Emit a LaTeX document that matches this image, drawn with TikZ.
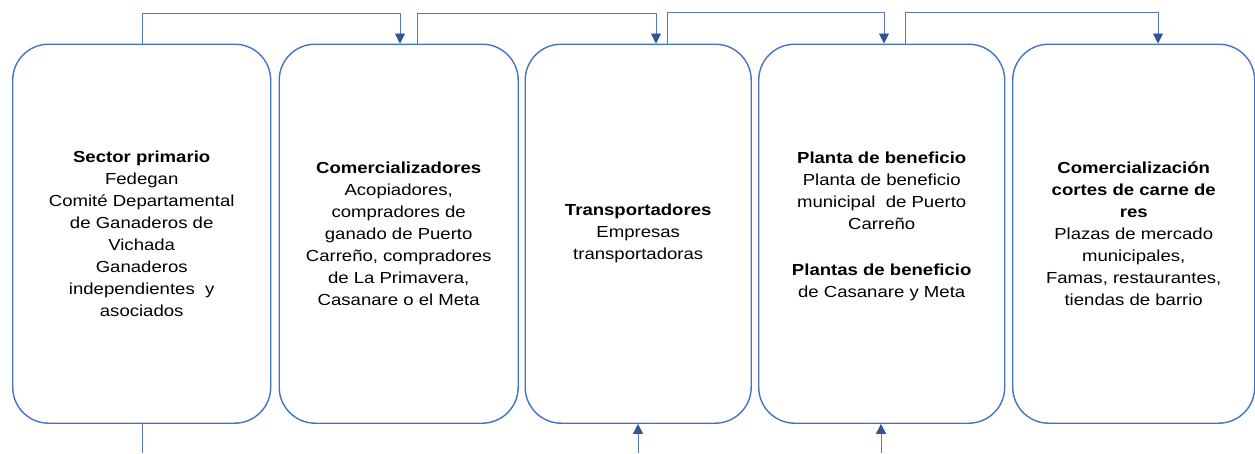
\documentclass[tikz,border=0pt]{standalone}
\usepackage{fontspec}
\setmainfont{Liberation Sans}[FakeStretch=1.16]
\usetikzlibrary{arrows.meta,calc}
\definecolor{boxblue}{HTML}{4472C4}
\definecolor{lineblue}{HTML}{5878BC}
\definecolor{tipblue}{HTML}{2F5597}
\tikzset{
  stage/.style={draw=boxblue, line width=1.4pt, rounded corners=36pt, rectangle,
    minimum height=379pt, inner sep=0pt, align=center, anchor=north west,
    font=\fontsize{16pt}{22pt}\selectfont},
  conn/.style={draw=lineblue, line width=0.9pt},
  tip/.style={-{Triangle[length=10pt,width=10pt,fill=tipblue,color=tipblue]}}
}
\begin{document}
\begin{tikzpicture}[x=1pt,y=-1pt]
\useasboundingbox (0,0) rectangle (1255,453);
\node[stage, minimum width=258pt] (b1) at (12,43.5)
  {\textbf{Sector primario}\\Fedegan\\Comité Departamental\\de Ganaderos de\\Vichada\\Ganaderos\\independientes~ y\\asociados};
\node[stage, minimum width=239pt] (b2) at (278.5,43.5)
  {\textbf{Comercializadores}\\Acopiadores,\\compradores de\\ganado de Puerto\\Carreño, compradores\\de La Primavera,\\Casanare o el Meta};
\node[stage, minimum width=226pt] (b3) at (524.5,43.5)
  {\textbf{Transportadores}\\Empresas\\transportadoras};
\node[stage, minimum width=246pt] (b4) at (758,43.5)
  {\textbf{Planta de beneficio}\\Planta de beneficio\\municipal~ de Puerto\\Carreño\\[24pt]\textbf{Plantas de beneficio}\\de Casanare y Meta\\[-4pt]\mbox{}};
\node[stage, minimum width=242pt] (b5) at (1012,43.5)
  {\textbf{Comercialización}\\\textbf{cortes de carne de}\\\textbf{res}\\Plazas de mercado\\municipales,\\Famas, restaurantes,\\tiendas de barrio};
% top connectors
\coordinate (u1) at (142,13);
\coordinate (v1) at (400,13);
\coordinate (u2) at (417,13);
\coordinate (v2) at (656,13);
\coordinate (u3) at (667,12);
\coordinate (v3) at (884,12);
\coordinate (u4) at (905,12);
\coordinate (v4) at (1158,12);
\draw[conn,tip] (u1 |- b1.north) -- (u1) -- (v1) -- (v1 |- b2.north);
\draw[conn,tip] (u2 |- b2.north) -- (u2) -- (v2) -- (v2 |- b3.north);
\draw[conn,tip] (u3 |- b3.north) -- (u3) -- (v3) -- (v3 |- b4.north);
\draw[conn,tip] (u4 |- b4.north) -- (u4) -- (v4) -- (v4 |- b5.north);
% bottom connectors
\coordinate (d1) at (142,453);
\coordinate (d3) at (638,453);
\coordinate (d4) at (881,453);
\draw[conn] (d1 |- b1.south) -- (d1);
\draw[conn,tip] (d3) -- (d3 |- b3.south);
\draw[conn,tip] (d4) -- (d4 |- b4.south);
\end{tikzpicture}
\end{document}
